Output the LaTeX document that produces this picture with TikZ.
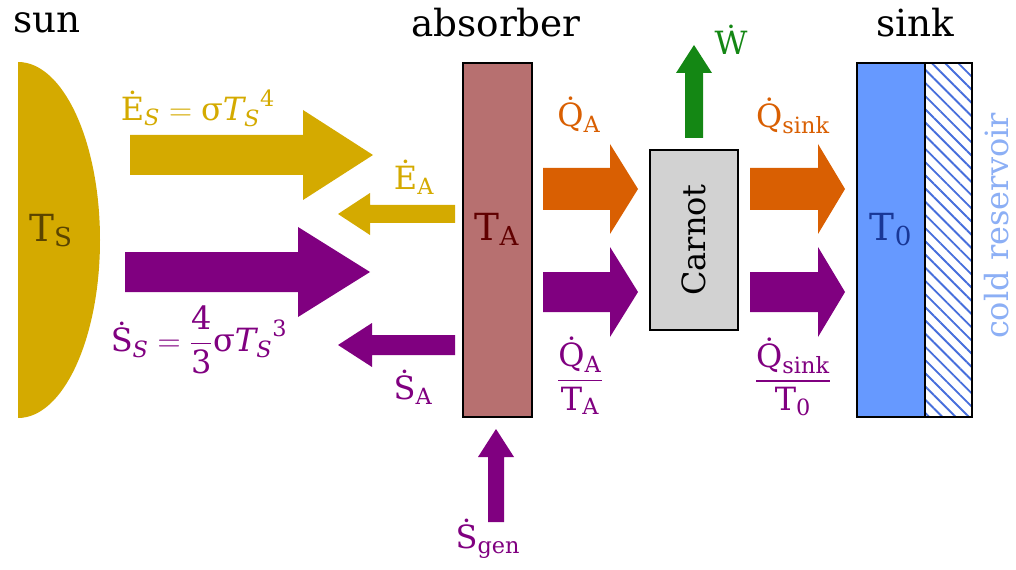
\documentclass[tikz,border=0pt]{standalone}
\usepackage{fix-cm}
\usepackage{amsmath}
\usepackage{fontspec}
\setmainfont{DejaVu Serif}
\usetikzlibrary{patterns.meta}
\definecolor{gold}{RGB}{212,170,0}
\definecolor{purp}{RGB}{128,0,128}
\definecolor{orng}{RGB}{217,95,2}
\definecolor{grn}{RGB}{20,135,20}
\definecolor{absfill}{RGB}{183,112,112}
\definecolor{tadark}{RGB}{96,0,0}
\definecolor{tsdark}{RGB}{90,68,0}
\definecolor{carfill}{RGB}{210,210,210}
\definecolor{sinkfill}{RGB}{102,153,255}
\definecolor{tzdark}{RGB}{25,55,150}
\definecolor{hatchblue}{RGB}{70,110,220}
\definecolor{coldtxt}{RGB}{140,175,245}
% horizontal block arrow: x-start, x-tip, y, body half, head half, head base x, colour
\newcommand\harrow[7]{\fill[#7] (#1,#3-#4) -- (#6,#3-#4) -- (#6,#3-#5) -- (#2,#3) -- (#6,#3+#5) -- (#6,#3+#4) -- (#1,#3+#4) -- cycle;}
% vertical block arrow: x, y-start, y-tip, body half, head half, head base y, colour
\newcommand\varrow[7]{\fill[#7] (#1-#4,#2) -- (#1-#4,#6) -- (#1-#5,#6) -- (#1,#3) -- (#1+#5,#6) -- (#1+#4,#6) -- (#1+#4,#2) -- cycle;}
\newcommand\dt[1]{\text{\.{#1}}}
\tikzset{
  title/.style={font=\fontsize{28}{32}\selectfont, text=black, inner sep=0pt},
  lbl/.style={font=\fontsize{24}{28}\selectfont, inner sep=0pt},
  temp/.style={font=\fontsize{28}{32}\selectfont, inner sep=0pt},
  box/.style={draw=black, line width=2pt},
}
\begin{document}
\begin{tikzpicture}[x=0.75pt,y=-0.75pt]
\useasboundingbox (0,0) rectangle (1016,570);
% sun
\fill[gold] (18,62) arc[start angle=-90,end angle=90,x radius=82,y radius=178] -- cycle;
\node[temp, text=tsdark, anchor=base] (TS) at (51,241) {$\mathrm{T}_{\mathrm{S}}$};
\node[title, anchor=base west] (sun) at (13,33) {sun};
% absorber
\draw[box, fill=absfill] (463,63) rectangle (532,417);
\node[temp, text=tadark, anchor=base] (TA) at (497,240) {$\mathrm{T}_{\mathrm{A}}$};
\node[title, anchor=base] (absorber) at (496,37) {absorber};
% Carnot
\draw[box, fill=carfill] (650,150) rectangle (738,330);
\node[font=\fontsize{24}{28}\selectfont, rotate=90, inner sep=0pt] (carnot) at (694,240) {Carnot};
% sink
\draw[box, fill=sinkfill] (857,63) rectangle (925,417);
\fill[white] (925,63) rectangle (972,417);
\path[pattern={Lines[angle=-45,distance=7pt,line width=1.4pt]}, pattern color=hatchblue] (925,63) rectangle (972,417);
\draw[box] (925,63) rectangle (972,417);
\node[temp, text=tzdark, anchor=base] (T0) at (891,240) {$\mathrm{T}_{\mathrm{0}}$};
\node[title, anchor=base] (sink) at (915,37) {sink};
\node[font=\fontsize{24}{28}\selectfont, text=coldtxt, rotate=90, inner sep=0pt] (cold) at (997,226) {cold reservoir};
% arrows
\harrow{130}{373}{155}{20}{45}{303}{gold}
\harrow{125}{370}{272}{20}{45}{298}{purp}
\harrow{455}{338}{214}{9}{21}{370}{gold}
\harrow{455}{338}{345}{10}{22}{372}{purp}
\harrow{543}{638}{189}{21}{45}{610}{orng}
\harrow{543}{638}{292}{20}{45}{610}{purp}
\harrow{750}{845}{189}{21}{45}{818}{orng}
\harrow{750}{845}{292}{20}{45}{818}{purp}
\varrow{694}{138}{45}{9}{18}{73}{grn}
\varrow{496}{522}{429}{8}{18}{457}{purp}
% labels
\node[lbl, text=gold] (ES) at (198,108) {$\dt{E}_{\mathit{S}}=\text{σ}{\mathit{T}_{\mathit{S}}}^{\text{4}}$};
\node[lbl, text=purp] (SS) at (199,340) {$\dt{S}_{\mathit{S}}=\dfrac{\text{4}}{\text{3}}\text{σ}{\mathit{T}_{\mathit{S}}}^{\text{3}}$};
\node[lbl, text=gold] (EA) at (414,177) {$\dt{E}_{\mathrm{A}}$};
\node[lbl, text=purp] (SA) at (413,387) {$\dt{S}_{\mathrm{A}}$};
\node[lbl, text=orng] (QA) at (579,115) {$\dt{Q}_{\mathrm{A}}$};
\node[lbl, text=purp] (QATA) at (580,376) {$\dfrac{\dt{Q}_{\mathrm{A}}}{\mathrm{T}_{\mathrm{A}}}$};
\node[lbl, text=grn] (W) at (731,40) {$\dt{W}$};
\node[lbl, text=orng] (Qsink) at (793,116) {$\dt{Q}_{\mathrm{sink}}$};
\node[lbl, text=purp] (QsT0) at (793,377) {$\dfrac{\dt{Q}_{\mathrm{sink}}}{\mathrm{T}_{\mathrm{0}}}$};
\node[lbl, text=purp] (Sgen) at (488,539) {$\dt{S}_{\mathrm{gen}}$};
\end{tikzpicture}
\end{document}
